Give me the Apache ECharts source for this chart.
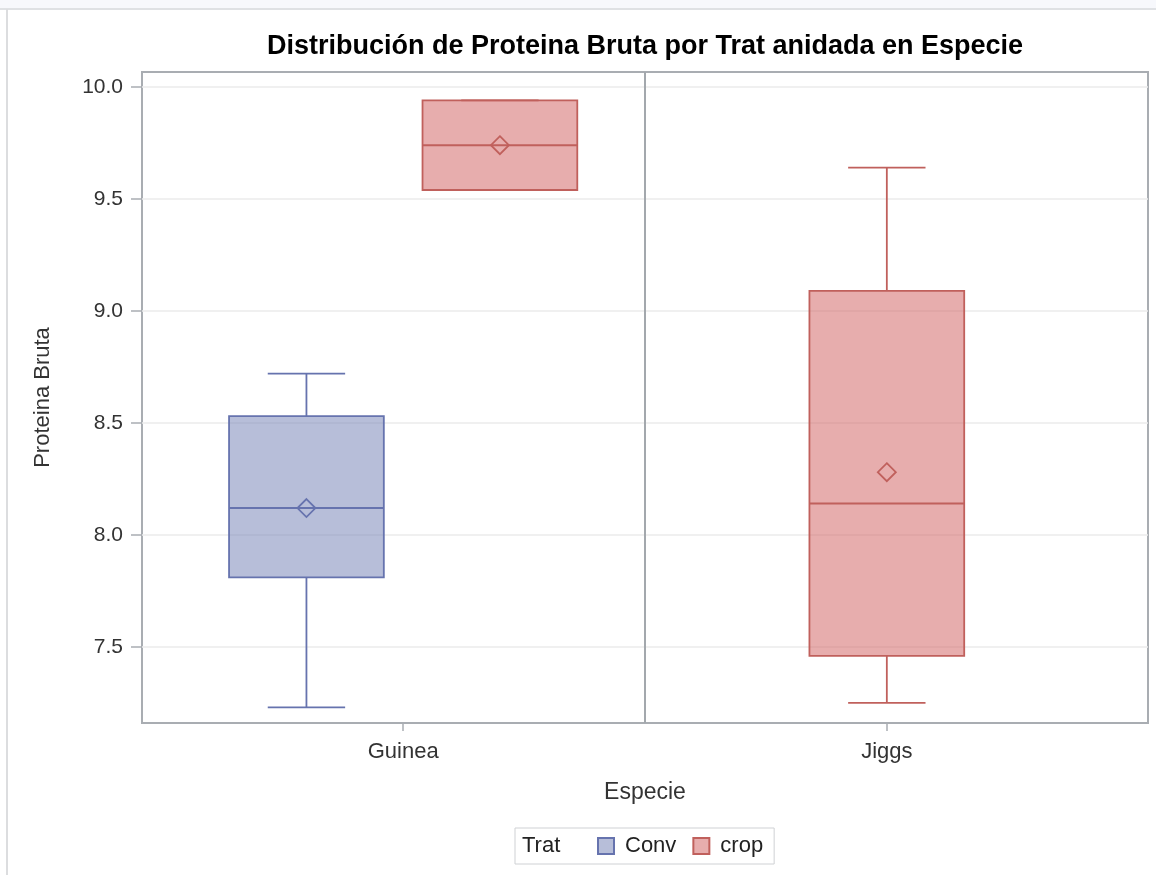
<!DOCTYPE html>
<html>
<head>
<meta charset="utf-8">
<title>Distribución de Proteina Bruta</title>
<script src="https://cdn.jsdelivr.net/npm/echarts@6/dist/echarts.min.js"></script>
<style>
  html, body { margin: 0; padding: 0; background: #fff; }
  #chart { position: absolute; left: 0; top: 0; width: 1156px; height: 875px; }
  #topstrip { position: absolute; left: 0; top: 0; width: 1156px; height: 8px; background: #f7f8fc; border-bottom: 2px solid #dfe1e4; z-index: 2; }
  #leftline { position: absolute; left: 6px; top: 9px; width: 2px; height: 866px; background: #dcdddf; z-index: 2; }
</style>
</head>
<body>
<div id="chart"></div>
<div id="topstrip"></div>
<div id="leftline"></div>
<script>
// categories (Especie) and groups (Trat)
const especie = ['Guinea', 'Jiggs'];
const trat = ['Conv', 'crop'];

// box stats per especie: [min, q1, median, q3, max]; null = no data
const convStats = [[7.23, 7.81, 8.12, 8.53, 8.72], null];
const cropStats = [[9.54, 9.54, 9.74, 9.94, 9.94], [7.25, 7.46, 8.14, 9.09, 9.64]];
// means (diamond markers)
const convMeans = [8.12, null];
const cropMeans = [9.74, 8.28];

const yTicks = [7.5, 8.0, 8.5, 9.0, 9.5, 10.0];

const colors = {
  Conv: { fill: 'rgba(111,126,179,0.5)', stroke: '#6673ae' },
  crop: { fill: 'rgba(208,91,91,0.5)', stroke: '#c0605c' },
};

const BOX_HALF = 0.16;
const CAP_HALF = 0.08;
const GROUP_OFFSET = 0.2;

// build custom series data [pos, min, q1, med, q3, max, mean]
function buildData(statsList, meansList, groupIdx) {
  const out = [];
  especie.forEach((name, i) => {
    const s = statsList[i];
    if (!s) return;
    const present = [convStats[i], cropStats[i]].filter(Boolean).length;
    let pos = i;
    if (present > 1) pos = i + (groupIdx === 0 ? -GROUP_OFFSET : GROUP_OFFSET);
    out.push([pos].concat(s, [meansList[i]]));
  });
  return out;
}

function renderBox(color) {
  return function (params, api) {
    const x = api.value(0);
    const lo = api.value(1);
    const q1 = api.value(2);
    const med = api.value(3);
    const q3 = api.value(4);
    const hi = api.value(5);
    const mean = api.value(6);
    const tl = api.coord([x - BOX_HALF, q3]);
    const br = api.coord([x + BOX_HALF, q1]);
    const c = api.coord([x, med]);
    const pHi = api.coord([x, hi]);
    const pLo = api.coord([x, lo]);
    const capL = api.coord([x - CAP_HALF, hi])[0];
    const capR = api.coord([x + CAP_HALF, hi])[0];
    const m = api.coord([x, mean]);
    const lineStyle = { stroke: color.stroke, lineWidth: 1.8, fill: null };
    const d = 9; // diamond half size
    return {
      type: 'group',
      children: [
        { type: 'line', shape: { x1: pHi[0], y1: pHi[1], x2: pHi[0], y2: tl[1] }, style: lineStyle },
        { type: 'line', shape: { x1: pLo[0], y1: br[1], x2: pLo[0], y2: pLo[1] }, style: lineStyle },
        { type: 'line', shape: { x1: capL, y1: pHi[1], x2: capR, y2: pHi[1] }, style: lineStyle },
        { type: 'line', shape: { x1: capL, y1: pLo[1], x2: capR, y2: pLo[1] }, style: lineStyle },
        {
          type: 'rect',
          shape: { x: tl[0], y: tl[1], width: br[0] - tl[0], height: br[1] - tl[1] },
          style: { fill: color.fill, stroke: color.stroke, lineWidth: 1.8 },
        },
        { type: 'line', shape: { x1: tl[0], y1: c[1], x2: br[0], y2: c[1] }, style: { stroke: color.stroke, lineWidth: 2 } },
        {
          type: 'polygon',
          shape: { points: [[m[0], m[1] - d], [m[0] + d, m[1]], [m[0], m[1] + d], [m[0] - d, m[1]]] },
          style: { fill: null, stroke: color.stroke, lineWidth: 1.8 },
        },
      ],
    };
  };
}

const chart = echarts.init(document.getElementById('chart'));

const fontFamily = '"Liberation Sans", Arial, sans-serif';

const option = {
  backgroundColor: '#fff',
  animation: false,
  textStyle: { fontFamily },
  title: {
    text: 'Distribución de Proteina Bruta por Trat anidada en Especie',
    left: 645,
    top: 33,
    padding: 0,
    textAlign: 'center',
    textStyle: { fontSize: 27, fontWeight: 'bold', color: '#000', fontFamily },
  },
  grid: {
    left: 142,
    right: 8,
    top: 72,
    bottom: 152,
    show: true,
    borderColor: '#a9adb2',
    borderWidth: 2,
    backgroundColor: 'transparent',
  },
  legend: {
    data: trat,
    left: 515,
    top: 828,
    padding: [7, 11, 7, 82],
    itemWidth: 16,
    itemHeight: 16,
    itemGap: 16,
    borderColor: '#cfd1d4',
    borderWidth: 1,
    selectedMode: false,
    icon: 'rect',
    textStyle: { fontSize: 22, color: '#222', fontFamily, padding: [0, 0, 0, 6] },
  },
  graphic: [
    {
      type: 'text',
      left: 522,
      top: 835,
      style: { text: 'Trat', fontSize: 22, fill: '#222', fontFamily },
    },
  ],
  xAxis: {
    type: 'value',
    min: -0.54,
    max: 1.54,
    name: 'Especie',
    nameLocation: 'middle',
    nameGap: 58,
    nameTextStyle: { fontSize: 23, color: '#333' },
    axisLine: { show: false, onZero: false },
    splitLine: { show: false },
    axisTick: { show: true, customValues: [0, 1], length: 8, lineStyle: { color: '#a9adb2', width: 1.5 } },
    axisLabel: {
      customValues: [0, 1],
      margin: 18,
      fontSize: 22,
      color: '#333',
      formatter: (v) => especie[Math.round(v)] || '',
    },
  },
  yAxis: {
    type: 'value',
    min: 7.16,
    max: 10.067,
    name: 'Proteina Bruta',
    nameLocation: 'middle',
    nameGap: 88,
    nameTextStyle: { fontSize: 22, color: '#333' },
    axisLine: { show: false, onZero: false },
    axisTick: { show: true, customValues: yTicks, length: 11, lineStyle: { color: '#a9adb2', width: 1.5 } },
    axisLabel: {
      customValues: yTicks,
      margin: 19,
      fontSize: 21,
      color: '#333',
      formatter: (v) => v.toFixed(1),
    },
    splitLine: { show: true, lineStyle: { color: '#ebebeb', width: 1.5 } },
  },
  series: [
    {
      name: 'Conv',
      type: 'custom',
      renderItem: renderBox(colors.Conv),
      itemStyle: { color: colors.Conv.fill, borderColor: colors.Conv.stroke, borderWidth: 1.5 },
      encode: { x: 0, y: [1, 2, 3, 4, 5, 6] },
      data: buildData(convStats, convMeans, 0),
      z: 3,
    },
    {
      name: 'crop',
      type: 'custom',
      renderItem: renderBox(colors.crop),
      itemStyle: { color: colors.crop.fill, borderColor: colors.crop.stroke, borderWidth: 1.5 },
      encode: { x: 0, y: [1, 2, 3, 4, 5, 6] },
      data: buildData(cropStats, cropMeans, 1),
      z: 3,
      markLine: {
        silent: true,
        symbol: 'none',
        label: { show: false },
        lineStyle: { color: '#a3a8ad', width: 2, type: 'solid' },
        data: [{ xAxis: 0.5 }],
      },
    },
  ],
};

chart.setOption(option);
</script>
</body>
</html>
